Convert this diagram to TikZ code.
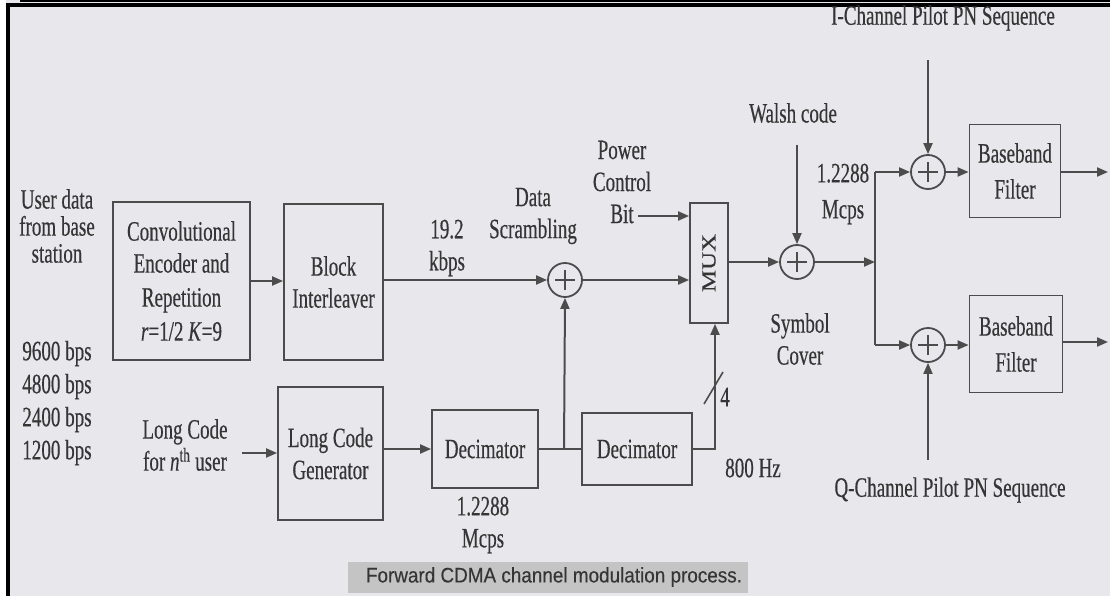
\documentclass[tikz,border=0pt]{standalone}
\usepackage{fontspec}
\setmainfont[FakeStretch=0.68,FakeBold=0.4]{Liberation Serif}
\newfontfamily\plainserif[FakeBold=0.4]{Liberation Serif}
\newfontfamily\capfont[FakeStretch=0.9,FakeBold=0.3]{Liberation Sans}
\usetikzlibrary{arrows.meta}
\definecolor{paper}{HTML}{E8E7EC}
\definecolor{ink}{HTML}{4C4C4C}
\definecolor{inktext}{HTML}{353535}
\definecolor{band}{HTML}{C4C4C4}
\tikzset{
  blk/.style={draw=ink, line width=1.8pt, inner sep=0pt, align=center, text=inktext},
  sum/.style={draw=ink, line width=1.8pt, circle, minimum size=34pt, inner sep=0pt,
    path picture={\draw[ink, line width=1.4pt]
      ([xshift=-10pt]path picture bounding box.center) -- ([xshift=10pt]path picture bounding box.center)
      ([yshift=-10pt]path picture bounding box.center) -- ([yshift=10pt]path picture bounding box.center);}},
  lbl/.style={text=inktext, align=center, inner sep=0pt},
  sig/.style={draw=ink, line width=2pt, -{Triangle[length=11pt,width=9pt]}},
  wire/.style={draw=ink, line width=2pt},
}
\begin{document}
\begin{tikzpicture}[x=1pt,y=-1pt,font=\fontsize{28}{32}\selectfont]
\useasboundingbox (0,0) rectangle (1110,596);
% paper and frame
\fill[paper] (0,0) rectangle (1110,596);
\fill[white] (0,0) rectangle (6,596);
\fill[black] (6,3) rectangle (10,596);
\fill[black] (6,3) rectangle (1110,7);
\fill[black] (20,0) rectangle (1110,1.7);

% blocks
\node[blk, minimum width=137pt, minimum height=158pt] (conv) at (181.5,281) {Convolutional\\Encoder and\\[2pt]Repetition\\[2pt]\textit{r}=1/2 \textit{K}=9};
\node[blk, minimum width=99pt, minimum height=156pt] (intl) at (333.5,282) {Block\\Interleaver};
\node[blk, minimum width=105pt, minimum height=133pt] (lcg) at (330.5,453.5) {Long Code\\Generator};
\node[blk, minimum width=106pt, minimum height=78pt] (deca) at (485,449) {Decimator};
\node[blk, minimum width=110pt, minimum height=72pt] (decb) at (637,449) {Decimator};
\node[blk, minimum width=38pt, minimum height=120pt] (mux) at (709,263) {};
\node[lbl, rotate=90, xscale=1.25, font=\plainserif\fontsize{20}{24}\selectfont] at (mux) {MUX};
\node[blk, minimum width=91pt, minimum height=93pt] (bbi) at (1015,171) {Baseband\\[4pt]Filter};
\node[blk, minimum width=93pt, minimum height=97pt] (bbq) at (1016,344) {Baseband\\[4pt]Filter};

% adders
\node[sum] (scr) at (565,280) {};
\node[sum] (wal) at (797,262) {};
\node[sum] (iadd) at (928,172) {};
\node[sum] (qadd) at (928,345) {};

% labels
\node[lbl, font=\fontsize{28}{27}\selectfont] (user) at (57,226) {User data\\from base\\station};
\node[lbl, font=\fontsize{28}{33}\selectfont] (rates) at (57,403) {9600 bps\\4800 bps\\2400 bps\\1200 bps};
\node[lbl] (lc) at (185,445) {Long Code\\for \textit{n}\textsuperscript{th} user};
\node[lbl] (rate) at (447,248) {19.2\\kbps};
\node[lbl] (scrl) at (533,216) {Data\\Scrambling};
\node[lbl] (pcb) at (622,182) {Power\\Control\\Bit};
\node[lbl] (walsh) at (793,113) {Walsh code};
\node[lbl] (chip) at (843,194) {1.2288\\[4pt]Mcps};
\node[lbl] (cover) at (800,339) {Symbol\\Cover};
\node[lbl] (hz) at (753,468) {800 Hz};
\node[lbl] (bits) at (725,397) {4};
\node[lbl] (chipb) at (483,525) {1.2288\\Mcps};
\node[lbl] (ipn) at (943,18) {I-Channel Pilot PN Sequence};
\node[lbl] (qpn) at (950,490) {Q-Channel Pilot PN Sequence};

% free ends
\coordinate (lcin) at (242,453);
\coordinate (pcbin) at (638,216);
\coordinate (tap) at (564,449);
\coordinate (walin) at (797,145);
\coordinate (split) at (875,262);
\coordinate (ibr) at (875,172);
\coordinate (qbr) at (875,345);
\coordinate (iin) at (928,60);
\coordinate (qin) at (928,460);
\coordinate (iout) at (1108,172);
\coordinate (qout) at (1108,342);

% connectors
\draw[sig] (conv.east) -- (intl.west |- conv.east);
\draw[sig] (intl.east |- scr.west) -- (scr.west);
\draw[sig] (scr) -- (mux.west |- scr);
\draw[sig] (pcbin) -- (mux.west |- pcbin);
\draw[sig] (lcin) -- (lcg.west |- lcin);
\draw[sig] (lcg.east |- deca) -- (deca.west);
\draw[wire] (deca.east) -- (decb.west);
\draw[sig] (tap) -- (scr.south);
\draw[sig] (decb.east) -| ([xshift=6pt]mux.south);
\draw[wire, line width=1.6pt] (704,404) -- (723,372);
\draw[sig] (mux.east |- wal) -- (wal);
\draw[sig] (walin) -- (wal.north);
\draw[sig] (wal) -- (split);
\draw[wire] (ibr) -- (qbr);
\draw[sig] (ibr) -- (iadd);
\draw[sig] (qbr) -- (qadd);
\draw[sig] (iin) -- (iadd.north);
\draw[sig] (qin) -- (qadd.south);
\draw[sig] (iadd) -- (bbi.west |- iadd);
\draw[sig] (qadd) -- (bbq.west |- qadd);
\draw[sig] (bbi.east |- iout) -- (iout);
\draw[sig] (bbq.east |- qout) -- (qout);

% caption
\fill[band] (348,562) rectangle (748,593);
\node[text=inktext, font=\capfont\fontsize{21}{24}\selectfont] (cap) at (554,577) {Forward CDMA channel modulation process.};
\end{tikzpicture}
\end{document}
